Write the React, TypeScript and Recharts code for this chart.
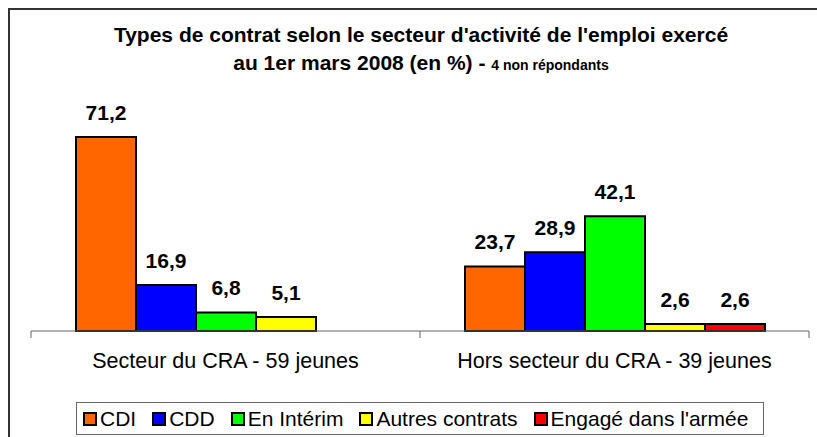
import { BarChart, Bar, XAxis, YAxis, LabelList, Legend } from "recharts";

const categories = ["Secteur du CRA - 59 jeunes", "Hors secteur du CRA - 39 jeunes"];
const cdi = [71.2, 23.7];
const cdd = [16.9, 28.9];
const interim = [6.8, 42.1];
const autres = [5.1, 2.6];
const armee = [null, 2.6];

const seriesKeys = ["cdi", "cdd", "interim", "autres", "armee"];
const seriesNames = ["CDI", "CDD", "En Intérim", "Autres contrats", "Engagé dans l'armée"];
const seriesColors = ["#FF6600", "#0000FF", "#00FF00", "#FFFF00", "#FF0000"];

const data = categories.map((name, i) => ({
  name,
  cdi: cdi[i],
  cdd: cdd[i],
  interim: interim[i],
  autres: autres[i],
  armee: armee[i],
}));

const W = 817;
const H = 437;
const margin = { top: 113, right: 8, bottom: 66, left: 31 };
const plotW = W - margin.left - margin.right;
const font = "Arial, 'Liberation Sans', sans-serif";

const fmt = (v: any) => (v == null ? "" : Number(v).toFixed(1).replace(".", ","));

function CategoryTick(props: any) {
  const { x, y, payload, index } = props;
  const half = plotW / categories.length / 2;
  const last = index === categories.length - 1;
  return (
    <g>
      <line x1={x - half} x2={x - half} y1={y} y2={y + 7} stroke="#666" />
      {last && <line x1={x + half} x2={x + half} y1={y} y2={y + 7} stroke="#666" />}
      <text x={x} y={y + 37} textAnchor="middle" fontSize={21.5} fontFamily={font} fill="#000">
        {payload.value}
      </text>
    </g>
  );
}

function LegendBox() {
  return (
    <div style={{
      display: "flex",
      alignItems: "center",
      border: "1px solid #666",
      height: 33,
      width: 688,
      boxSizing: "border-box",
      paddingLeft: 6,
      fontFamily: font,
      fontSize: 21,
      color: "#000",
      background: "#fff",
      whiteSpace: "nowrap",
    }}>
      {seriesNames.map((n, i) => (
        <div key={n} style={{ display: "flex", alignItems: "center", marginRight: 16 }}>
          <span style={{
            display: "inline-block",
            width: 10,
            height: 10,
            border: "2px solid #000",
            background: seriesColors[i],
            marginRight: 3,
          }} />
          <span>{n}</span>
        </div>
      ))}
    </div>
  );
}

export default function App() {
  return (
    <div style={{ position: "relative", width: W, height: H, background: "#fff", overflow: "hidden" }}>
      <style>{`body{margin:0}`}</style>
      <div style={{
        position: "absolute", left: 8, top: 8, width: W, height: H,
        borderLeft: "2px solid #333", borderTop: "2px solid #333",
      }} />
      <div style={{
        position: "absolute", left: 0, top: 21, width: 842, textAlign: "center",
        fontFamily: font, fontWeight: "bold", fontSize: 21, lineHeight: "28px", color: "#000",
      }}>
        <div>Types de contrat selon le secteur d'activité de l'emploi exercé</div>
        <div>au 1er mars 2008 (en %) - <span style={{ fontSize: 14 }}>4 non répondants</span></div>
      </div>
      <div style={{ position: "absolute", left: 0, top: 0 }}>
        <BarChart width={W} height={H} data={data} margin={margin} barSize={60} barGap={0}>
          <XAxis
            dataKey="name"
            height={40}
            stroke="#666"
            tickLine={false}
            tickSize={0}
            tickMargin={0}
            interval={0}
            tick={<CategoryTick />}
          />
          <YAxis hide domain={[0, 80]} />
          <Legend
            verticalAlign="middle"
            align="center"
            wrapperStyle={{ top: 402, left: 76, width: "auto" }}
            content={() => <LegendBox />}
          />
          {seriesKeys.map((k, i) => (
            <Bar
              key={k}
              dataKey={k}
              name={seriesNames[i]}
              fill={seriesColors[i]}
              stroke="#000"
              strokeWidth={2}
              isAnimationActive={false}
            >
              <LabelList
                dataKey={k}
                position="top"
                offset={17}
                formatter={fmt}
                fill="#000"
                fontSize={21}
                fontWeight="bold"
                fontFamily={font}
              />
            </Bar>
          ))}
        </BarChart>
      </div>
    </div>
  );
}
